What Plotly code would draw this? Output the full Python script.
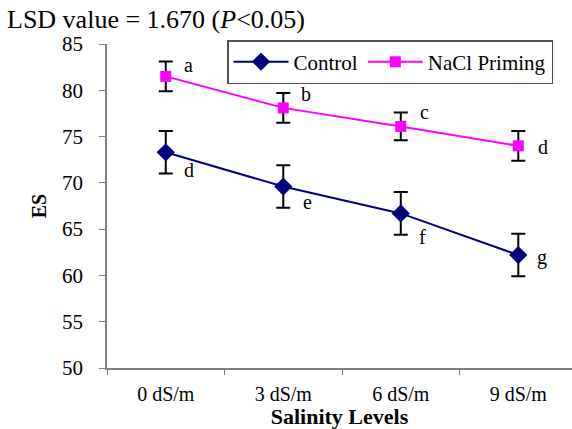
import plotly.graph_objects as go

categories = ["0 dS/m", "3 dS/m", "6 dS/m", "9 dS/m"]
control = [73.3, 69.6, 66.7, 62.2]
control_err = [2.3, 2.3, 2.3, 2.3]
control_letters = ["d", "e", "f", "g"]
nacl = [81.5, 78.1, 76.1, 74.0]
nacl_err = [1.6, 1.6, 1.5, 1.6]
nacl_letters = ["a", "b", "c", "d"]
yticks = [50, 55, 60, 65, 70, 75, 80, 85]

FONT = "Liberation Serif"

fig = go.Figure()
fig.add_trace(go.Scatter(
    x=categories, y=control, name="Control", mode="lines+markers",
    line=dict(color="#000080", width=2),
    marker=dict(symbol="diamond", size=14, color="#000080"),
    error_y=dict(type="data", array=control_err, color="black", thickness=2, width=7),
))
fig.add_trace(go.Scatter(
    x=categories, y=nacl, name="NaCl Priming", mode="lines+markers",
    line=dict(color="#FF00FF", width=2),
    marker=dict(symbol="square", size=11, color="#FF00FF"),
    error_y=dict(type="data", array=nacl_err, color="black", thickness=2, width=7),
))

ann = []
ctrl_shift = [(23, -18), (24, -15), (22, -24), (24, -2)]
for c, v, t, (dx, dy) in zip(categories, control, control_letters, ctrl_shift):
    ann.append(dict(x=c, y=v, text=t, showarrow=False, xshift=dx, yshift=dy,
                    font=dict(family=FONT, size=20, color="black")))
nacl_shift = [(23, 11), (23, 14), (24, 14), (25, -1)]
for c, v, t, (dx, dy) in zip(categories, nacl, nacl_letters, nacl_shift):
    ann.append(dict(x=c, y=v, text=t, showarrow=False, xshift=dx, yshift=dy,
                    font=dict(family=FONT, size=20, color="black")))

fig.update_layout(
    width=572, height=429,
    margin=dict(l=107, r=0, t=44, b=61, autoexpand=False),
    paper_bgcolor="white", plot_bgcolor="white",
    font=dict(family=FONT, size=20, color="black"),
    title=dict(text="LSD value = 1.670 (<i>P</i>&lt;0.05)", x=7/572, xanchor="left",
               xref="container", yref="container", y=1-19/429, yanchor="middle",
               font=dict(family=FONT, size=26, color="black")),
    showlegend=True,
    legend=dict(orientation="h", x=(227-107)/465, xanchor="left", y=(368-40)/324, yanchor="top",
                bgcolor="white", bordercolor="#505050", borderwidth=1.5,
                font=dict(family=FONT, size=21, color="black"), itemwidth=55,
                tracegroupgap=0),
    annotations=ann,
    xaxis=dict(type="category", range=[-0.5, 3.457], showline=True, linecolor="#808080", linewidth=1.5,
               ticks="outside", ticklen=5, tickcolor="#808080", tickson="boundaries",
               showgrid=False, zeroline=False, ticklabelstandoff=7,
               tickfont=dict(family=FONT, size=20, color="black"),
               title=dict(text="<b>Salinity Levels</b>", standoff=0,
                          font=dict(family=FONT, size=22, color="black"))),
    yaxis=dict(range=[50, 85], tickvals=yticks, showline=True, linecolor="#808080", linewidth=1.5,
               ticks="outside", ticklen=6, tickcolor="#808080", showgrid=False, zeroline=False,
               ticklabelstandoff=12,
               tickfont=dict(family=FONT, size=21, color="black"),
               title=dict(text="<b>ES</b>", standoff=10,
                          font=dict(family=FONT, size=20, color="black"))),
)

fig.write_html("out.html", post_script="document.body.style.margin='0';",
               config={"displayModeBar": False})
